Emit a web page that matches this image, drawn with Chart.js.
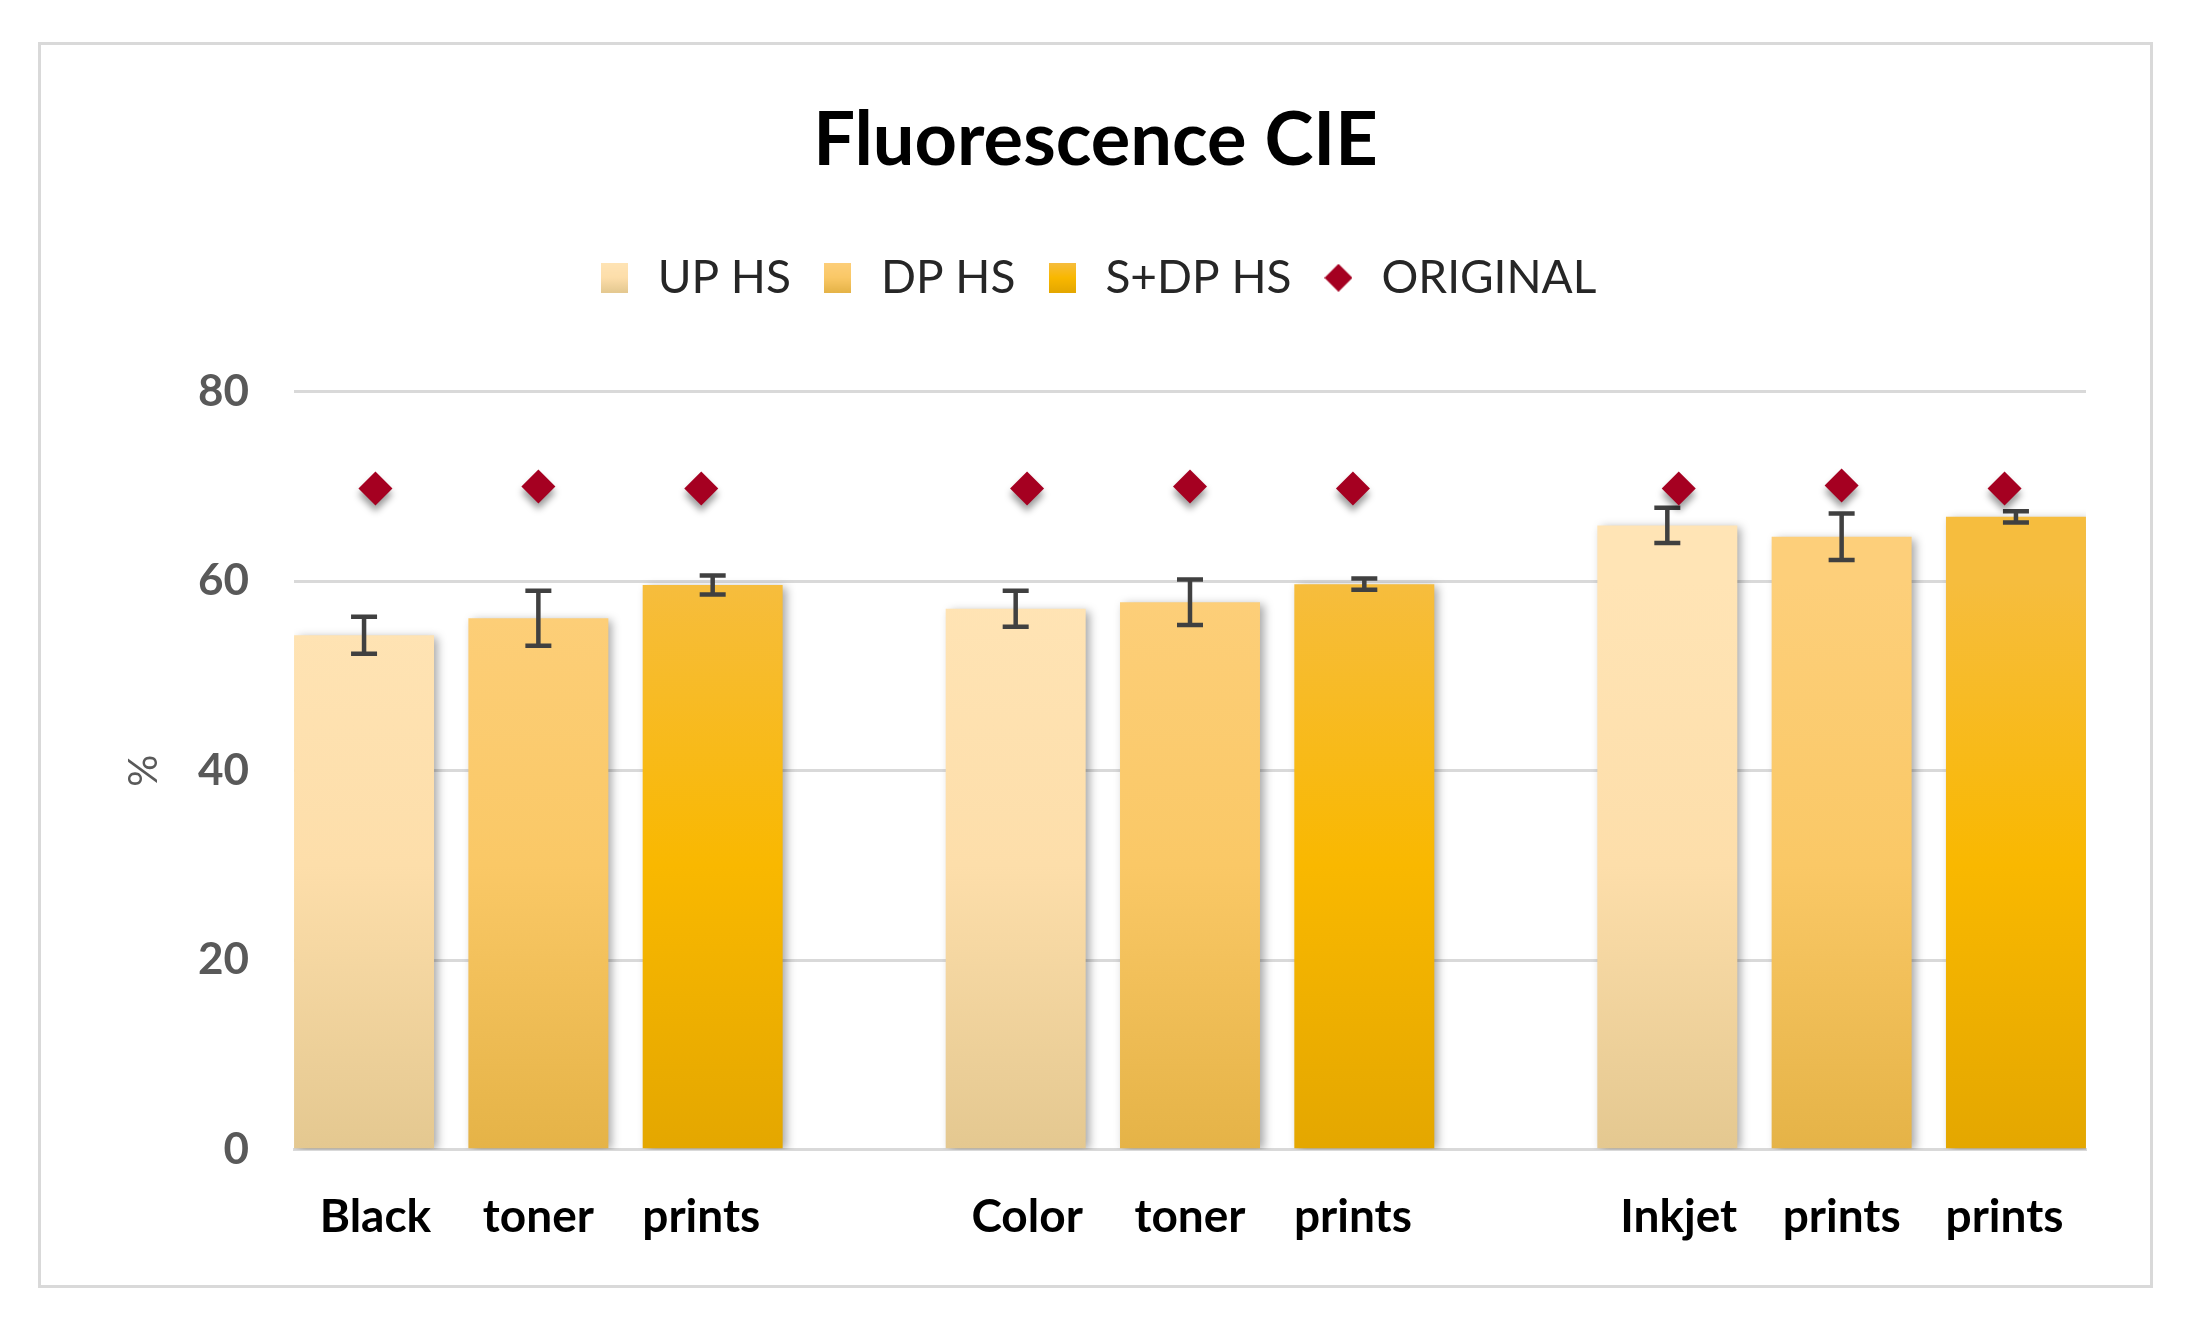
<!DOCTYPE html>
<html>
<head>
<meta charset="utf-8">
<script src="https://cdn.jsdelivr.net/npm/chart.js@4/dist/chart.umd.min.js"></script>
<style>
html, body { margin: 0; padding: 0; background: #fff; }
#box { position: absolute; left: 38px; top: 42px; width: 2109px; height: 1240px; border: 3px solid #d9d9d9; }
</style>
</head>
<body>
<div id="box"><canvas id="fluoChart"></canvas></div>
<script>
// x labels (11 slots, blank slots separate the three print groups)
var labels = ['Black', 'toner', 'prints', '', 'Color', 'toner', 'prints', '', 'Inkjet', 'prints', 'prints'];
var groupSlots = [1, 5, 9];

var upHs = [54.3, 57.1, 65.9];
var upHsErr = [1.95, 1.9, 1.85];
var dpHs = [56.1, 57.8, 64.7];
var dpHsErr = [2.9, 2.4, 2.45];
var sdpHs = [59.6, 59.7, 66.8];
var sdpHsErr = [1.0, 0.6, 0.6];
var original = [69.8, 70.0, 69.8, null, 69.8, 70.0, 69.8, null, 69.8, 70.1, 69.8];

var yTicks = [0, 20, 40, 60, 80];

var upStops = ['#e4c890', '#fddeaa', '#ffe4b5'];
var dpStops = ['#e5b347', '#fac866', '#fdcf7a'];
var sdpStops = ['#e4a700', '#f9b800', '#f6bd3e'];

function toSlots(vals) {
    return labels.map(function (l, i) {
        var g = groupSlots.indexOf(i);
        return g >= 0 ? vals[g] : null;
    });
}

function barFill(stops) {
    return function (ctx) {
        var chart = ctx.chart;
        var area = chart.chartArea;
        if (!area) return stops[1];
        var y = chart.scales.y;
        var g = chart.ctx.createLinearGradient(0, y.getPixelForValue(0), 0, y.getPixelForValue(60));
        g.addColorStop(0, stops[0]);
        g.addColorStop(0.5, stops[1]);
        g.addColorStop(1, stops[2]);
        return g;
    };
}

function swatch(stops) {
    var c = document.createElement('canvas');
    c.width = 27; c.height = 30;
    var x = c.getContext('2d');
    var g = x.createLinearGradient(0, 30, 0, 0);
    g.addColorStop(0, stops[0]);
    g.addColorStop(0.5, stops[1]);
    g.addColorStop(1, stops[2]);
    x.fillStyle = g;
    x.fillRect(0, 0, 27, 30);
    return c;
}

function diamond() {
    var c = document.createElement('canvas');
    c.width = 28; c.height = 28;
    var x = c.getContext('2d');
    x.fillStyle = '#a50021';
    x.beginPath();
    x.moveTo(14, 0); x.lineTo(28, 14); x.lineTo(14, 28); x.lineTo(0, 14);
    x.closePath();
    x.fill();
    return c;
}

var legendIcons = [swatch(upStops), swatch(dpStops), swatch(sdpStops), diamond()];

// extra room between legend and plot
var legendGap = {
    id: 'legendGap',
    beforeInit: function (chart) {
        var fit = chart.legend.fit;
        chart.legend.fit = function () {
            fit.bind(chart.legend)();
            this.height += 81;
        };
    }
};

var errorBars = {
    id: 'errorBars',
    beforeDatasetDraw: function (chart, args) {
        var ctx = chart.ctx;
        ctx.save();
        if (args.meta.type === 'bar') {
            ctx.shadowColor = 'rgba(0,0,0,0.35)';
            ctx.shadowBlur = 9;
            ctx.shadowOffsetX = 4;
            ctx.shadowOffsetY = 2;
        } else {
            ctx.shadowColor = 'rgba(0,0,0,0.4)';
            ctx.shadowBlur = 7;
            ctx.shadowOffsetY = 6;
        }
    },
    afterDatasetDraw: function (chart, args) {
        var ctx = chart.ctx;
        ctx.restore();
        var ds = chart.data.datasets[args.index];
        if (!ds.errors) return;
        var y = chart.scales.y;
        ctx.save();
        ctx.strokeStyle = '#404040';
        ctx.lineWidth = 4.5;
        args.meta.data.forEach(function (bar, i) {
            var v = ds.data[i];
            if (v === null) return;
            var e = ds.errors[i];
            var top = y.getPixelForValue(v + e);
            var bot = y.getPixelForValue(v - e);
            ctx.beginPath();
            ctx.moveTo(bar.x, top); ctx.lineTo(bar.x, bot);
            ctx.moveTo(bar.x - 13, top); ctx.lineTo(bar.x + 13, top);
            ctx.moveTo(bar.x - 13, bot); ctx.lineTo(bar.x + 13, bot);
            ctx.stroke();
        });
        ctx.restore();
    }
};

var barOpts = { categoryPercentage: 3.21, barPercentage: 0.803, order: 1 };

new Chart(document.getElementById('fluoChart').getContext('2d'), {
    type: 'bar',
    data: {
        labels: labels,
        datasets: [
            Object.assign({ label: 'UP HS', data: toSlots(upHs), errors: toSlots(upHsErr), backgroundColor: barFill(upStops) }, barOpts),
            Object.assign({ label: 'DP HS', data: toSlots(dpHs), errors: toSlots(dpHsErr), backgroundColor: barFill(dpStops) }, barOpts),
            Object.assign({ label: 'S+DP HS', data: toSlots(sdpHs), errors: toSlots(sdpHsErr), backgroundColor: barFill(sdpStops) }, barOpts),
            {
                type: 'line',
                label: 'ORIGINAL',
                data: original,
                showLine: false,
                pointStyle: 'rectRot',
                pointRadius: 17,
                pointHoverRadius: 17,
                backgroundColor: '#a50021',
                borderColor: '#a50021',
                borderWidth: 0,
                order: 0
            }
        ]
    },
    options: {
        responsive: true,
        maintainAspectRatio: false,
        animation: false,
        layout: { padding: { left: 64, right: 64, top: 0, bottom: 0 } },
        plugins: {
            title: {
                display: true,
                text: 'Fluorescence CIE',
                color: '#000',
                font: { family: 'Lato', size: 74, weight: 'bold' },
                padding: { top: 52, bottom: 42 }
            },
            legend: {
                display: true,
                position: 'top',
                labels: {
                    color: '#262626',
                    font: { family: 'Lato', size: 46 },
                    usePointStyle: true,
                    boxHeight: 28,
                    padding: 27,
                    generateLabels: function (chart) {
                        return chart.data.datasets.map(function (ds, i) {
                            return {
                                text: ds.label,
                                pointStyle: legendIcons[i],
                                fontColor: '#262626',
                                datasetIndex: i,
                                lineWidth: 0
                            };
                        });
                    }
                }
            },
            tooltip: { enabled: false }
        },
        scales: {
            x: {
                grid: { display: false, drawTicks: false },
                border: { display: true, color: '#d9d9d9', width: 3 },
                ticks: {
                    color: '#000',
                    font: { family: 'Lato', size: 46, weight: 'bold' },
                    padding: 40,
                    autoSkip: false,
                    maxRotation: 0
                }
            },
            y: {
                min: 0,
                max: 80,
                afterFit: function (scale) { scale.width = 189; },
                afterBuildTicks: function (scale) {
                    scale.ticks = yTicks.map(function (v) { return { value: v }; });
                },
                grid: { color: '#d9d9d9', lineWidth: 3, drawTicks: false },
                border: { display: false },
                ticks: {
                    color: '#595959',
                    font: { family: 'Lato', size: 44, weight: 'bold' },
                    padding: 45
                },
                title: {
                    display: true,
                    text: '%',
                    color: '#595959',
                    font: { family: 'Lato', size: 40 },
                    padding: { top: 15, bottom: 0 }
                }
            }
        }
    },
    plugins: [legendGap, errorBars]
});
</script>
</body>
</html>
